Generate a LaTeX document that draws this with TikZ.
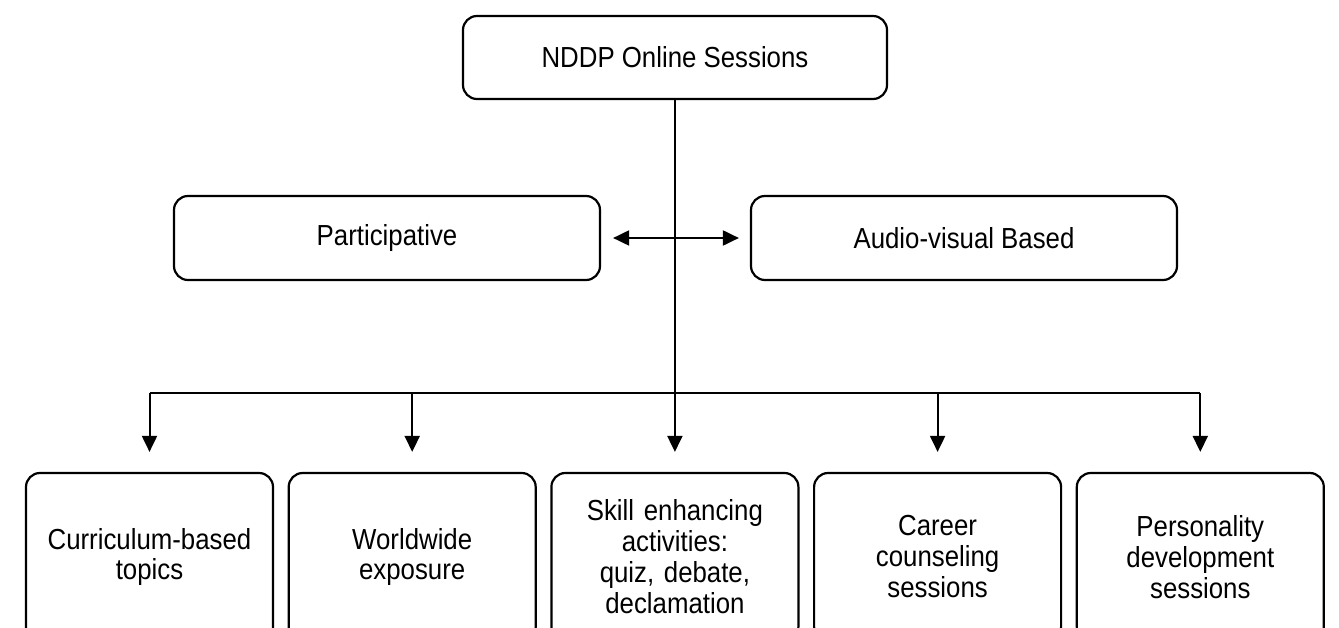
\documentclass[tikz,border=0pt]{standalone}
\usepackage{fontspec}
\setmainfont{Liberation Sans}[FakeStretch=0.89]
\usepackage{tikz}
\usetikzlibrary{arrows.meta,positioning}

\begin{document}
\begin{tikzpicture}[x=1pt,y=-1pt,node distance=13.5pt,>={Triangle[length=16pt,width=15pt]},
    box/.style={draw,line width=2.2pt,rounded corners=14pt,align=center,
      font=\fontsize{29}{31}\selectfont},
    topbox/.style={box,minimum width=424pt,minimum height=83pt},
    midbox/.style={box,minimum width=426pt,minimum height=84pt},
    leaf/.style={box,minimum width=247pt,minimum height=168pt,text width=235pt,inner sep=4pt},
    link/.style={line width=2pt}]

    \useasboundingbox (0,0) rectangle (1339,628);
    \clip (0,0) rectangle (1339,628);

    \node[topbox]  (nddp)  at (675,57.5)                  {NDDP Online Sessions};
    \node[midbox]  (part)  at (387,238)                   {Participative};
    \node[midbox]  (av)    at (964,238)                   {Audio-visual Based};

    \node[leaf]    (c1)    at (149.5,557)                 {Curriculum-based\\topics};
    \node[leaf]    (c2)    [right=of c1]                  {Worldwide\\exposure};
    \node[leaf]    (c3)    [right=of c2]                  {Skill enhancing\\activities:\\quiz, debate,\\declamation};
    \node[leaf]    (c4)    [right=of c3]                  {Career\\counseling\\sessions};
    \node[leaf]    (c5)    [right=of c4]                  {Personality\\development\\sessions};

    \coordinate (split) at (675,393);

  \draw[link] (nddp) -- (split);
  \draw[link] (split -| c1) -- (split -| c5);
  \draw[link,<->,shorten <=12pt,shorten >=11pt] (part) -- (av);
  \foreach \c in {c1,c2,c3,c4,c5}
    \draw[link,->,shorten >=20pt] (split -| \c) -- (\c);
\end{tikzpicture}
\end{document}
